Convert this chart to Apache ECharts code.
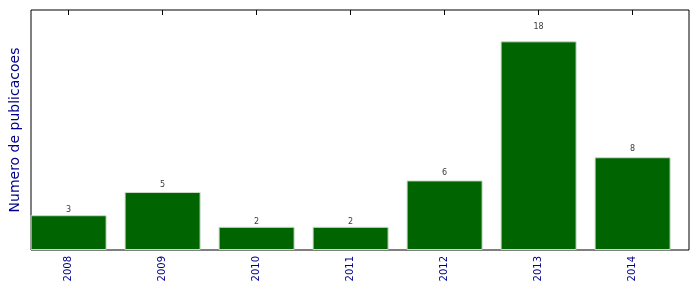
<!DOCTYPE html>
<html>
<head>
<meta charset="utf-8">
<script src="https://cdn.jsdelivr.net/npm/echarts@6/dist/echarts.min.js"></script>
<style>html,body{margin:0;padding:0;background:#fff}#c{width:699px;height:292px}</style>
</head>
<body>
<div id="c"></div>
<script>
var years = ['2008', '2009', '2010', '2011', '2012', '2013', '2014'];
var counts = [3, 5, 2, 2, 6, 18, 8];
var yLabel = 'Numero de publicacoes';

var idx = years.map(function (_, i) { return i; });
var barData = counts.map(function (v, i) { return [i, v]; });
var labelData = counts.map(function (v, i) { return [i, v * 1.05, v]; });
var yMax = Math.max.apply(null, counts) * 1.15;

var chart = echarts.init(document.getElementById('c'), null, {renderer: 'canvas'});
chart.setOption({
  animation: false,
  grid: {left: 31, right: 10, top: 10, bottom: 42, show: true, borderColor: '#000', borderWidth: 1, backgroundColor: 'transparent'},
  xAxis: [{
    type: 'value', min: -0.4, max: 6.6, position: 'bottom',
    axisLine: {show: false}, splitLine: {show: false},
    axisTick: {show: true, inside: true, length: 5, customValues: idx, lineStyle: {color: '#000'}},
    axisLabel: {show: true, customValues: idx, rotate: 90, margin: 6, color: '#00008b',
      fontFamily: 'DejaVu Sans', fontSize: 10,
      formatter: function (v) { return years[Math.round(v)]; }}
  }, {
    type: 'value', min: -0.4, max: 6.6, position: 'top',
    axisLine: {show: false}, splitLine: {show: false},
    axisTick: {show: true, inside: true, length: 5, customValues: idx, lineStyle: {color: '#000'}},
    axisLabel: {show: false}
  }],
  yAxis: {
    type: 'value', min: 0, max: yMax,
    axisLine: {show: false}, axisTick: {show: false}, axisLabel: {show: false}, splitLine: {show: false},
    name: yLabel, nameLocation: 'middle', nameGap: 9, nameRotate: 90,
    nameTextStyle: {color: '#00008b', fontFamily: 'DejaVu Sans', fontSize: 14}
  },
  series: [{
    type: 'bar', data: barData, barWidth: 76,
    itemStyle: {color: '#006400', borderColor: '#c8dcc8', borderWidth: 1}
  }, {
    type: 'scatter', data: labelData, symbolSize: 0, silent: true,
    label: {show: true, position: 'top', distance: 0, color: '#000', fontFamily: 'DejaVu Sans', fontSize: 8,
      formatter: function (p) { return p.data[2]; }}
  }]
});
</script>
</body>
</html>
